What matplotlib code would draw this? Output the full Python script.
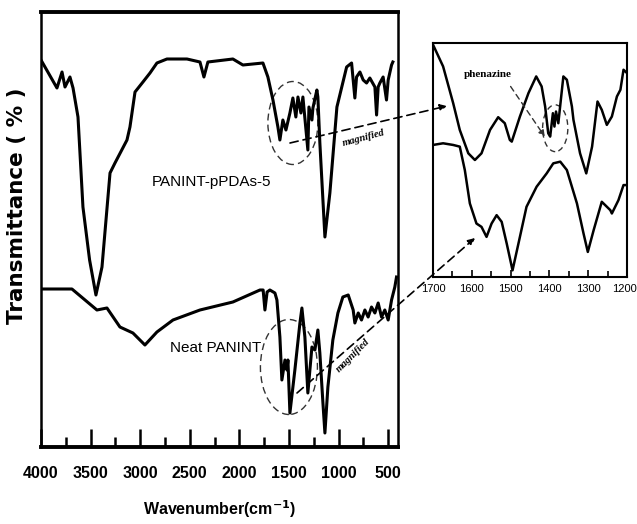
import matplotlib
matplotlib.use('Agg')
import matplotlib.pyplot as plt
from matplotlib.patches import Ellipse, FancyArrowPatch
from matplotlib.ticker import MultipleLocator

# full spectra (wavenumber, transmittance in arbitrary units)
wn_pda = [4000, 3839, 3788, 3758, 3708, 3677, 3627, 3577, 3510, 3446, 3385, 3304,
          3254, 3133, 3103, 3052, 2972, 2901, 2831, 2730, 2528, 2397, 2357, 2317,
          2065, 1964, 1762, 1712, 1661, 1611, 1591, 1561, 1530, 1490, 1460, 1430,
          1409, 1379, 1359, 1309, 1298, 1268, 1258, 1218, 1208, 1188, 1137, 1087,
          1016, 918, 868, 835, 818, 784, 751, 717, 684, 633, 616, 600, 583, 550,
          516, 499, 465, 452]
t_pda = [387, 359, 375, 360, 370, 359, 330, 240, 187, 152, 180, 274,
         284, 307, 320, 355, 365, 374, 384, 388, 388, 385, 370, 385,
         388, 382, 384, 370, 347, 320, 307, 327, 317, 334, 349, 330,
         350, 334, 350, 297, 340, 327, 339, 357, 350, 304, 210, 254,
         340, 380, 384, 349, 370, 375, 367, 364, 369, 360, 332, 360, 364, 370,
         347, 367, 382, 385]

wn_neat = [4000, 3688, 3436, 3335, 3204, 3073, 2952, 2831, 2669, 2397, 2065, 1792,
           1760, 1742, 1720, 1692, 1641, 1621, 1591, 1571, 1540, 1520, 1510, 1490,
           1440, 1389, 1369, 1339, 1309, 1268, 1238, 1208, 1188, 1157, 1137, 1107,
           1057, 1006, 956, 902, 852, 835, 801, 768, 734, 701, 667, 633, 600, 566,
           533, 499, 465, 432, 415]
t_neat = [158, 158, 137, 139, 120, 114, 102, 115, 127, 137, 145, 157,
          157, 137, 155, 157, 154, 147, 110, 67, 87, 77, 87, 34,
          77, 124, 139, 110, 54, 100, 97, 117, 94, 44, 14, 60,
          107, 134, 150, 152, 137, 124, 134, 127, 137, 130, 140, 134, 144, 130,
          137, 127, 147, 160, 170]

# magnified region 1700-1200 cm-1
wn_pda_zoom = [1700, 1674, 1648, 1631, 1609, 1592, 1575, 1553, 1532, 1515, 1502,
               1497, 1476, 1454, 1434, 1420, 1411, 1403, 1398, 1391, 1387, 1383,
               1377, 1364, 1355, 1342, 1338, 1321, 1305, 1290, 1276, 1265, 1252,
               1239, 1226, 1217, 1209, 1200]
t_pda_zoom = [695, 630, 520, 440, 370, 350, 370, 440, 478, 460, 410,
              405, 480, 550, 600, 570, 510, 430, 420, 490, 450, 495,
              460, 600, 590, 510, 470, 370, 310, 390, 525, 500, 455,
              480, 540, 560, 620, 610]

wn_neat_zoom = [1700, 1674, 1648, 1631, 1618, 1605, 1588, 1575, 1562, 1549, 1536,
                1523, 1510, 1495, 1476, 1459, 1433, 1407, 1390, 1372, 1355, 1329,
                1312, 1301, 1286, 1265, 1243, 1239, 1222, 1209, 1200]
t_neat_zoom = [395, 400, 395, 390, 320, 220, 160, 150, 120, 160, 185,
               165, 100, 20, 120, 210, 270, 310, 340, 345, 320, 220,
               130, 75, 140, 225, 200, 190, 230, 275, 275]

inset_ticks = [1700, 1600, 1500, 1400, 1300, 1200]

SANS = 'Liberation Sans'
SERIF = 'Liberation Serif'
plt.rcParams['font.family'] = SANS

W, H = 637, 524
fig = plt.figure(figsize=(W / 100, H / 100), dpi=100)

ax = fig.add_axes([41 / W, 1 - 447 / H, 357 / W, 435 / H])
ax.plot(wn_pda, t_pda, color='black', lw=2.2)
ax.plot(wn_neat, t_neat, color='black', lw=2.2)
ax.set_xlim(4000, 400)
ax.set_ylim(0, 435)
ax.set_yticks([])
ax.xaxis.set_major_locator(MultipleLocator(500))
ax.xaxis.set_minor_locator(MultipleLocator(250))
ax.tick_params(axis='x', which='major', direction='in', length=13, width=1.8, pad=14)
ax.tick_params(axis='x', which='minor', direction='in', length=7, width=1.8)
for lab in ax.get_xticklabels():
    lab.set_fontweight('bold')
    lab.set_fontsize(11.5)
for side in ['top', 'bottom']:
    ax.spines[side].set_linewidth(2.8)
for side in ['left', 'right']:
    ax.spines[side].set_linewidth(1.8)
ax.set_xlabel('Wavenumber(cm$^{\\mathbf{-1}}$)', fontsize=11.5, fontweight='bold', labelpad=12)
fig.text(17 / W, 1 - 206 / H, 'Transmittance ( % )', rotation=90, fontsize=15.5,
         fontweight='bold', family='DejaVu Sans', ha='center', va='center')

ax.text(2885, 265, 'PANINT-pPDAs-5', fontsize=11, ha='left', va='center')
ax.text(2700, 99, 'Neat PANINT', fontsize=11, ha='left', va='center')

ax.add_patch(Ellipse((1460, 324), 504, 83, fill=False, ls=(0, (5, 3)), lw=1.0, color='#333'))
ax.add_patch(Ellipse((1500, 80), 575, 95, fill=False, ls=(0, (5, 3)), lw=1.0, color='#333'))

ax.text(750, 309, 'magnified', fontsize=7.5, fontweight='bold', fontstyle='italic',
        family=SERIF, rotation=15, ha='center', va='center')
ax.text(850, 92, 'magnified', fontsize=7.5, fontweight='bold', fontstyle='italic',
        family=SERIF, rotation=45, ha='center', va='center')

# inset
axi = fig.add_axes([433 / W, 1 - 277 / H, 194 / W, 234 / H])
axi.plot(wn_pda_zoom, t_pda_zoom, color='black', lw=1.8)
axi.plot(wn_neat_zoom, t_neat_zoom, color='black', lw=1.8)
axi.set_xlim(1700, 1200)
axi.set_ylim(0, 700)
axi.set_yticks([])
axi.set_xticks(inset_ticks, labels=[''] * len(inset_ticks))
axi.xaxis.set_minor_locator(MultipleLocator(50))
axi.tick_params(axis='x', which='major', direction='in', length=5, width=1.2)
axi.tick_params(axis='x', which='minor', direction='in', length=4, width=1.2)
for s in axi.spines.values():
    s.set_linewidth(1.5)
# tick labels placed by hand so the last one stays inside the figure
for t in inset_ticks:
    xt = t + 6 if t == inset_ticks[-1] else t
    axi.text(xt, -0.03, str(t), transform=axi.get_xaxis_transform(),
             fontsize=8, ha='center', va='top')

axi.text(1560, 605, 'phenazine', fontsize=8, fontweight='bold', family=SERIF,
         ha='center', va='center')
axi.annotate('', xy=(1412, 420), xytext=(1500, 570),
             arrowprops=dict(arrowstyle='-|>', ls=(0, (4, 3)), lw=1.0, color='#333',
                             mutation_scale=9, shrinkA=0, shrinkB=0))
axi.add_patch(Ellipse((1385, 445), 65, 140, fill=False, ls=(0, (4, 3)), lw=1.0, color='#333'))


# dashed arrows from main plot to inset (figure pixel coordinates)
def fig_pt(px, py):
    return (px / W, 1 - py / H)


for start, end in [((290, 143), (447, 106)), ((297, 393), (475, 238))]:
    fig.add_artist(FancyArrowPatch(
        fig_pt(*start), fig_pt(*end), transform=fig.transFigure,
        arrowstyle='-|>', ls=(0, (5, 3)), lw=1.2, color='black',
        mutation_scale=10, shrinkA=0, shrinkB=0))

fig.savefig('out.png', dpi=100)
